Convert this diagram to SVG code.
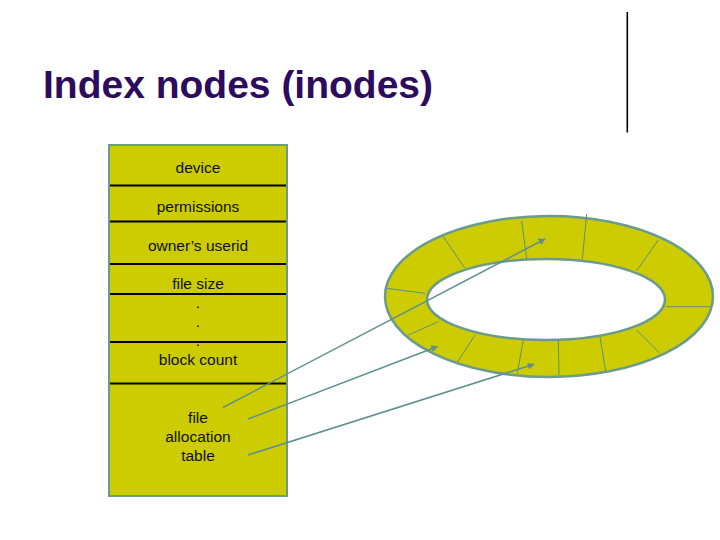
<svg xmlns="http://www.w3.org/2000/svg" width="720" height="540" viewBox="0 0 720 540">
<defs>
<style>
.t{font-family:"Liberation Sans",Arial,sans-serif;font-size:15.5px;fill:#111;text-anchor:middle}
.div{stroke:#000;stroke-width:2}
.rad{stroke:#5f8f80;stroke-width:1}
.conn{stroke:#5f9090;stroke-width:1.5;fill:none;marker-end:url(#ah)}
</style>
<marker id="ah" viewBox="0 0 10 10" refX="9" refY="5" markerWidth="7" markerHeight="7" orient="auto" markerUnits="userSpaceOnUse">
<path d="M0,0 L10,5 L0,10 z" fill="#5f9090"/>
</marker>
</defs>
<rect width="720" height="540" fill="#fff"/>
<g id="title">
<text x="43" y="98" font-family="'Liberation Sans',Arial,sans-serif" font-size="39" font-weight="bold" fill="#2d0b5e">Index nodes (inodes)</text>
</g>
<g id="rule">
<line x1="627.3" y1="12" x2="627.3" y2="132.5" stroke="#000" stroke-width="1.6"/>
</g>
<g id="inode">
<rect x="109" y="145" width="178" height="351" fill="#cccc00" stroke="#6b9b8b" stroke-width="2"/>
<line class="div" x1="110" y1="185.5" x2="286" y2="185.5"/>
<line class="div" x1="110" y1="221.5" x2="286" y2="221.5"/>
<line class="div" x1="110" y1="264" x2="286" y2="264"/>
<line class="div" x1="110" y1="294" x2="286" y2="294"/>
<line class="div" x1="110" y1="342" x2="286" y2="342"/>
<line class="div" x1="110" y1="383.5" x2="286" y2="383.5"/>
<text class="t" x="198" y="173">device</text>
<text class="t" x="198" y="211.5">permissions</text>
<text class="t" x="198" y="250.5">owner’s userid</text>
<text class="t" x="198" y="288.5">file size</text>
<text class="t" x="198" y="308">.</text>
<text class="t" x="198" y="327">.</text>
<text class="t" x="198" y="346">.</text>
<text class="t" x="198" y="364.5">block count</text>
<text class="t" x="198" y="422.5">file</text>
<text class="t" x="198" y="441.5">allocation</text>
<text class="t" x="198" y="460.5">table</text>
</g>
<g id="ring">
<path d="M385,296.5 a164,80.5 0 1,0 328,0 a164,80.5 0 1,0 -328,0 Z M427,299.5 a119,40.5 0 1,1 238,0 a119,40.5 0 1,1 -238,0 Z" fill="#cccc00" fill-rule="evenodd" stroke="#6b9b8b" stroke-width="2.5"/>
<line class="rad" x1="443.3" y1="236.7" x2="465" y2="268.3"/>
<line class="rad" x1="521.7" y1="220.7" x2="526.7" y2="259"/>
<line class="rad" x1="586.7" y1="214" x2="582.3" y2="259.3"/>
<line class="rad" x1="658.3" y1="240" x2="636.7" y2="270.7"/>
<line class="rad" x1="666" y1="306.7" x2="711" y2="306.7"/>
<line class="rad" x1="636.7" y1="330" x2="659.3" y2="352.7"/>
<line class="rad" x1="600" y1="336.7" x2="605.7" y2="371.7"/>
<line class="rad" x1="558.3" y1="340" x2="559" y2="375"/>
<line class="rad" x1="523.3" y1="340" x2="517.3" y2="373.3"/>
<line class="rad" x1="475" y1="335" x2="457.3" y2="362.3"/>
<line class="rad" x1="438.3" y1="321.7" x2="408.3" y2="335"/>
<line class="rad" x1="386.7" y1="288.3" x2="425" y2="293.3"/>
</g>
<g id="connectors">
<line class="conn" x1="223" y1="407.5" x2="545" y2="239"/>
<line class="conn" x1="248" y1="419" x2="437.5" y2="346.5"/>
<line class="conn" x1="248" y1="455" x2="534" y2="364.3"/>
</g>
</svg>
